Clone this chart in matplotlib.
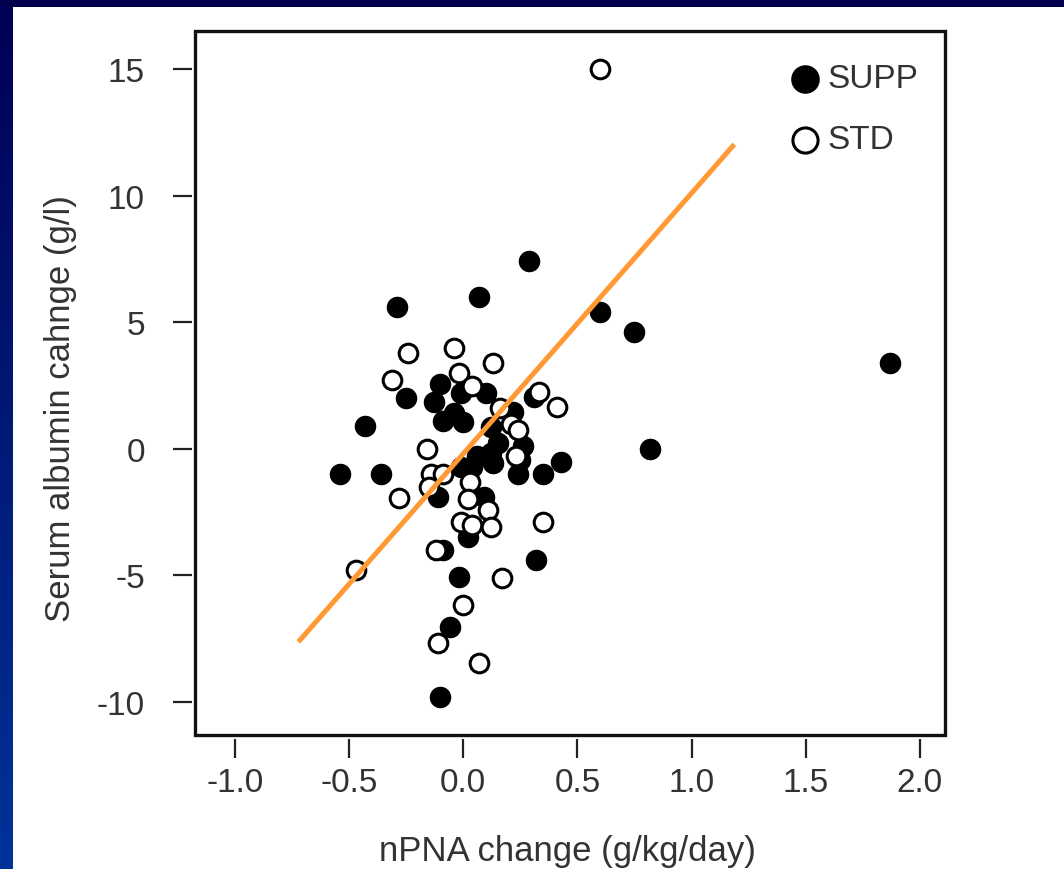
import numpy as np
import matplotlib
matplotlib.use("Agg")
import matplotlib.pyplot as plt
from matplotlib.patches import Rectangle

plt.rcParams['font.family'] = ['Liberation Sans', 'DejaVu Sans']

# SUPP group (filled circles)
supp_x = [-0.29, 0.07, 0.29, 0.60, 0.75, 1.87, 0.82,
          -0.43, -0.54, -0.36, -0.25, -0.10, -0.13, -0.01, 0.10, 0.31,
          -0.09, -0.04, 0.00, 0.12, 0.22,
          0.15, 0.12, 0.26, 0.06, 0.13, 0.04, -0.01, 0.25, 0.24, 0.35, 0.43,
          -0.11, 0.09, 0.02, -0.09, -0.02, -0.06, -0.10, 0.32]
supp_y = [5.6, 6.0, 7.4, 5.4, 4.6, 3.4, 0.0,
          0.9, -1.0, -1.0, 2.0, 2.55, 1.85, 2.2, 2.2, 2.05,
          1.1, 1.4, 1.05, 0.85, 1.45,
          0.25, -0.15, 0.1, -0.3, -0.55, -0.7, -0.7, -0.45, -1.0, -1.0, -0.5,
          -1.9, -1.9, -3.5, -4.0, -5.05, -7.05, -9.8, -4.4]

# STD group (open circles)
std_x = [0.60, -0.24, -0.31, -0.04, 0.13, -0.02, 0.04, 0.33, 0.41, 0.16,
         0.21, 0.24, 0.23, -0.16, -0.14, -0.09, -0.15, -0.28, 0.03, 0.02,
         0.11, -0.01, 0.04, 0.12, 0.35, -0.12, -0.47, 0.17, 0.00, -0.11, 0.07]
std_y = [15.0, 3.8, 2.7, 4.0, 3.4, 3.0, 2.5, 2.25, 1.65, 1.6,
         1.0, 0.75, -0.3, 0.0, -1.0, -1.0, -1.5, -1.95, -1.3, -2.0,
         -2.4, -2.9, -3.0, -3.1, -2.9, -4.0, -4.8, -5.1, -6.15, -7.65, -8.45]

# fitted line end points
fit_x = [-0.715, 1.18]
fit_y = [-7.55, 11.95]

xticks = [-1.0, -0.5, 0.0, 0.5, 1.0, 1.5, 2.0]
yticks = [-10, -5, 0, 5, 10, 15]

fig = plt.figure(figsize=(10.64, 8.70), dpi=100)
fig.patch.set_facecolor('white')

# blue slide background strips
grad = np.linspace(0, 1, 256).reshape(-1, 1)
cmap = matplotlib.colors.LinearSegmentedColormap.from_list('slide', ['#000055', '#003399'])
bl = fig.add_axes([0, 0, 13 / 1064, 1])
bl.imshow(grad, aspect='auto', cmap=cmap, extent=[0, 1, 0, 1], origin='upper')
bl.set_axis_off()
bt = fig.add_axes([0, 1 - 8 / 870, 1, 8 / 870])
bt.set_facecolor('#00004d')
bt.set_xticks([])
bt.set_yticks([])
for s in bt.spines.values():
    s.set_visible(False)

ax = fig.add_axes([195 / 1064, 134 / 870, 750 / 1064, 704 / 870])
ax.scatter(supp_x, supp_y, s=210, c='black', edgecolors='black', linewidths=1, label='SUPP', zorder=3)
ax.scatter(std_x, std_y, s=180, c='white', edgecolors='black', linewidths=2.2, label='STD', zorder=3)
ax.plot(fit_x, fit_y, color='#FF9933', lw=3.6, zorder=4)

ax.set_xlim(-1.175, 2.11)
ax.set_ylim(-11.3, 16.5)
ax.set_xticks(xticks)
ax.set_xticklabels(['%.1f' % v for v in xticks])
ax.set_yticks(yticks)
ax.set_yticklabels([str(v) for v in yticks])

for s in ax.spines.values():
    s.set_visible(False)
ax.spines['bottom'].set_position(('outward', 3))
ax.spines['left'].set_position(('outward', 2))
ax.add_patch(Rectangle((0, 0), 1, 1, transform=ax.transAxes, fill=False,
                       ec='#111111', lw=2.4, clip_on=False, zorder=5))
ax.tick_params(direction='out', length=14, width=1.6, color='#222222',
               labelsize=24, labelcolor='#333333')
ax.tick_params(axis='x', pad=6)
ax.tick_params(axis='y', pad=20)

ax.set_xlabel('nPNA change (g/kg/day)', fontsize=25, color='#333333')
ax.set_ylabel('Serum albumin cahnge (g/l)', fontsize=25, color='#333333')
ax.xaxis.set_label_coords(0.496, -0.141)
ax.yaxis.set_label_coords(-0.157, 0.465)

leg = ax.legend(loc='upper left', bbox_to_anchor=(0.785, 0.954), frameon=False,
                fontsize=24, handletextpad=0.0, handlelength=1.3, labelspacing=0.9,
                borderpad=0, borderaxespad=0, markerscale=1.35)
for t in leg.get_texts():
    t.set_color('#333333')

fig.savefig('out.png', dpi=100, facecolor=fig.get_facecolor())
